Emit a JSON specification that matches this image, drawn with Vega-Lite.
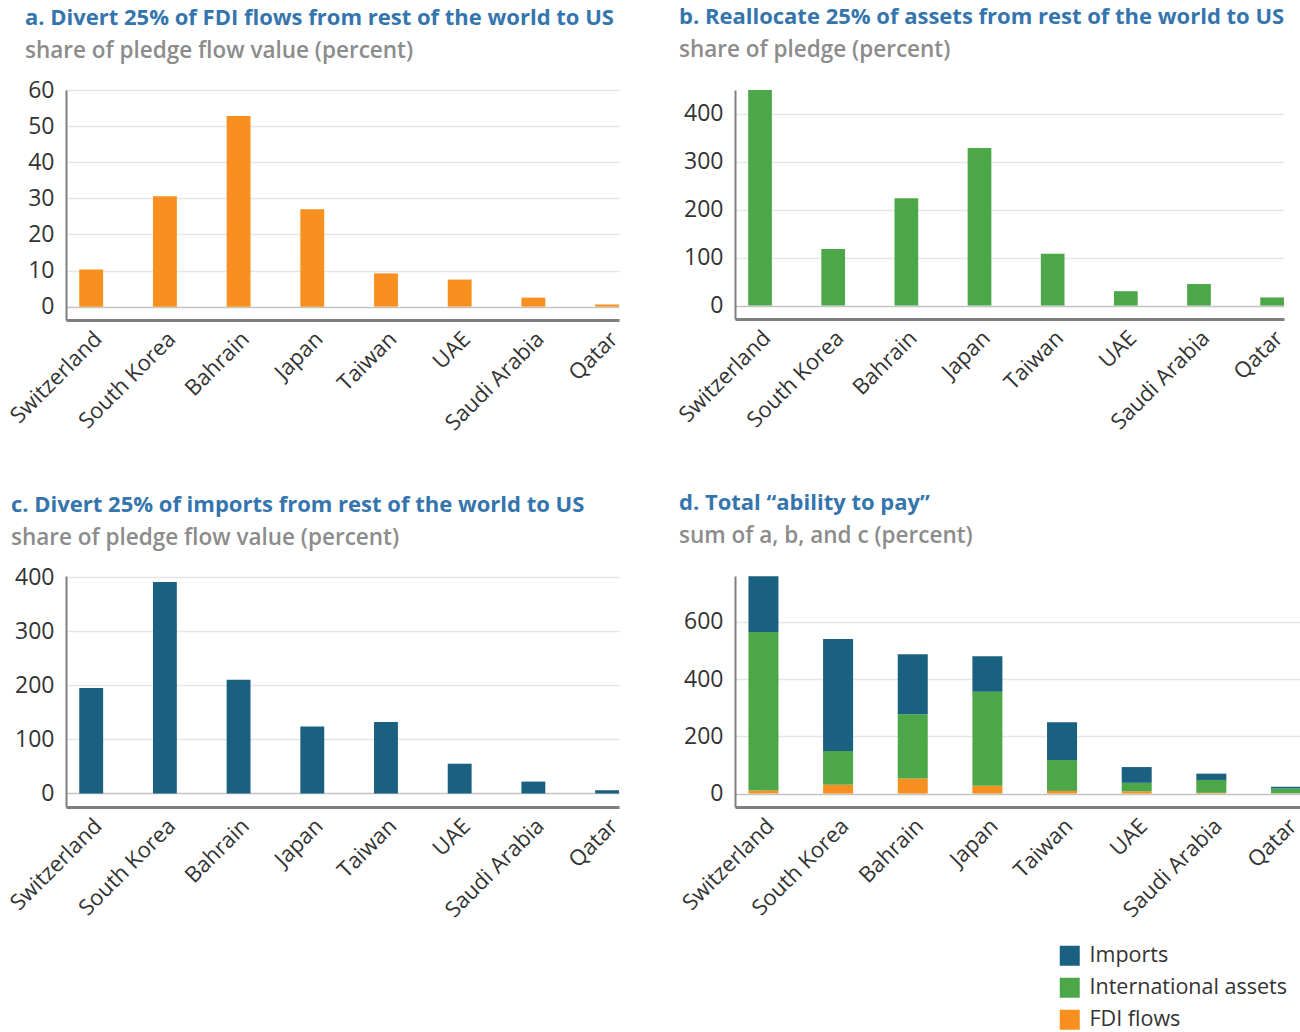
{
  "$schema": "https://vega.github.io/schema/vega-lite/v6.json",
  "padding": {"left": 5, "top": 5, "right": 0, "bottom": 0},
  "background": "white",
  "config": {
    "font": "Open Sans",
    "view": {"stroke": null},
    "title": {"anchor": "start", "frame": "group", "fontSize": 22, "fontWeight": "bold", "color": "#3575AD", "subtitleFontSize": 22.5, "subtitleColor": "#8C8C8C", "subtitleFontWeight": 600, "subtitlePadding": 10, "offset": 16},
    "axis": {"ticks": false, "domainColor": "#7F7F7F", "labelColor": "#333333", "labelFontSize": 22, "title": null},
    "axisX": {"labelAngle": -45, "domainWidth": 3, "grid": false, "labelPadding": 8},
    "axisY": {"domainWidth": 2, "gridWidth": 1.5, "gridColor": {"condition": {"test": "datum.value === 0", "value": "#C4C4C4"}, "value": "#E6E6E6"}, "labelPadding": 12, "labelFontSize": 23},
    "legend": {"labelFontSize": 21.5, "labelColor": "#333333", "labelLimit": 0, "symbolType": "square", "symbolSize": 400, "symbolStrokeWidth": 0, "rowPadding": 9, "labelOffset": 9}
  },
  "data": {
    "values": [
      {"country": "Switzerland", "panel": "a", "measure": "FDI flows", "value": 10.3},
      {"country": "South Korea", "panel": "a", "measure": "FDI flows", "value": 30.6},
      {"country": "Bahrain", "panel": "a", "measure": "FDI flows", "value": 52.8},
      {"country": "Japan", "panel": "a", "measure": "FDI flows", "value": 27.0},
      {"country": "Taiwan", "panel": "a", "measure": "FDI flows", "value": 9.2},
      {"country": "UAE", "panel": "a", "measure": "FDI flows", "value": 7.5},
      {"country": "Saudi Arabia", "panel": "a", "measure": "FDI flows", "value": 2.5},
      {"country": "Qatar", "panel": "a", "measure": "FDI flows", "value": 0.6},
      {"country": "Switzerland", "panel": "b", "measure": "International assets", "value": 554},
      {"country": "South Korea", "panel": "b", "measure": "International assets", "value": 118},
      {"country": "Bahrain", "panel": "b", "measure": "International assets", "value": 224},
      {"country": "Japan", "panel": "b", "measure": "International assets", "value": 329},
      {"country": "Taiwan", "panel": "b", "measure": "International assets", "value": 108},
      {"country": "UAE", "panel": "b", "measure": "International assets", "value": 30},
      {"country": "Saudi Arabia", "panel": "b", "measure": "International assets", "value": 45},
      {"country": "Qatar", "panel": "b", "measure": "International assets", "value": 17},
      {"country": "Switzerland", "panel": "c", "measure": "Imports", "value": 195},
      {"country": "South Korea", "panel": "c", "measure": "Imports", "value": 391},
      {"country": "Bahrain", "panel": "c", "measure": "Imports", "value": 210},
      {"country": "Japan", "panel": "c", "measure": "Imports", "value": 124},
      {"country": "Taiwan", "panel": "c", "measure": "Imports", "value": 132},
      {"country": "UAE", "panel": "c", "measure": "Imports", "value": 55},
      {"country": "Saudi Arabia", "panel": "c", "measure": "Imports", "value": 22},
      {"country": "Qatar", "panel": "c", "measure": "Imports", "value": 6}
    ]
  },
  "columns": 2,
  "spacing": {"row": 57, "column": 52},
  "concat": [
    {
      "title": {"text": "a. Divert 25% of FDI flows from rest of the world to US", "subtitle": "share of pledge flow value (percent)", "dx": -41},
      "width": 553, "height": 230,
      "transform": [{"filter": "datum.panel == 'a'"}],
      "mark": {"type": "bar", "color": "#F7901E", "clip": true},
      "encoding": {
        "x": {"field": "country", "type": "nominal", "sort": null, "scale": {"paddingInner": 0.676, "paddingOuter": 0.09, "align": 1}},
        "y": {"field": "value", "type": "quantitative", "scale": {"domain": [-3.7, 60], "nice": false}, "axis": {"values": [0, 10, 20, 30, 40, 50, 60]}}
      }
    },
    {
      "title": {"text": "b. Reallocate 25% of assets from rest of the world to US", "subtitle": "share of pledge (percent)", "dx": -56, "dy": -12},
      "width": 549, "height": 229,
      "transform": [{"filter": "datum.panel == 'b'"}],
      "mark": {"type": "bar", "color": "#4CA748", "clip": true},
      "encoding": {
        "x": {"field": "country", "type": "nominal", "sort": null, "scale": {"paddingInner": 0.676, "paddingOuter": 0.09, "align": 1}},
        "y": {"field": "value", "type": "quantitative", "scale": {"domain": [-28, 450], "nice": false}, "axis": {"values": [0, 100, 200, 300, 400]}}
      }
    },
    {
      "title": {"text": "c. Divert 25% of imports from rest of the world to US", "subtitle": "share of pledge flow value (percent)", "dx": -55},
      "width": 553, "height": 231,
      "transform": [{"filter": "datum.panel == 'c'"}],
      "mark": {"type": "bar", "color": "#1A6080", "clip": true},
      "encoding": {
        "x": {"field": "country", "type": "nominal", "sort": null, "scale": {"paddingInner": 0.676, "paddingOuter": 0.09, "align": 1}},
        "y": {"field": "value", "type": "quantitative", "scale": {"domain": [-25, 402], "nice": false}, "axis": {"values": [0, 100, 200, 300, 400]}}
      }
    },
    {
      "title": {"text": "d. Total “ability to pay”", "subtitle": "sum of a, b, and c (percent)", "dx": -56, "dy": -12},
      "width": 566, "height": 231,
      "mark": {"type": "bar", "clip": true},
      "encoding": {
        "x": {"field": "country", "type": "nominal", "sort": null, "scale": {"paddingInner": 0.598, "paddingOuter": 0.09, "align": 1}},
        "y": {"field": "value", "type": "quantitative", "aggregate": "sum", "stack": "zero", "scale": {"domain": [-47, 760], "nice": false}, "axis": {"values": [0, 200, 400, 600]}},
        "color": {"field": "measure", "type": "nominal", "scale": {"domain": ["Imports", "International assets", "FDI flows"], "range": ["#1A6080", "#4CA748", "#F7901E"]}, "legend": {"title": null, "orient": "none", "legendX": 993, "legendY": 855}},
        "order": {"field": "panel", "sort": "ascending"}
      }
    }
  ]
}
